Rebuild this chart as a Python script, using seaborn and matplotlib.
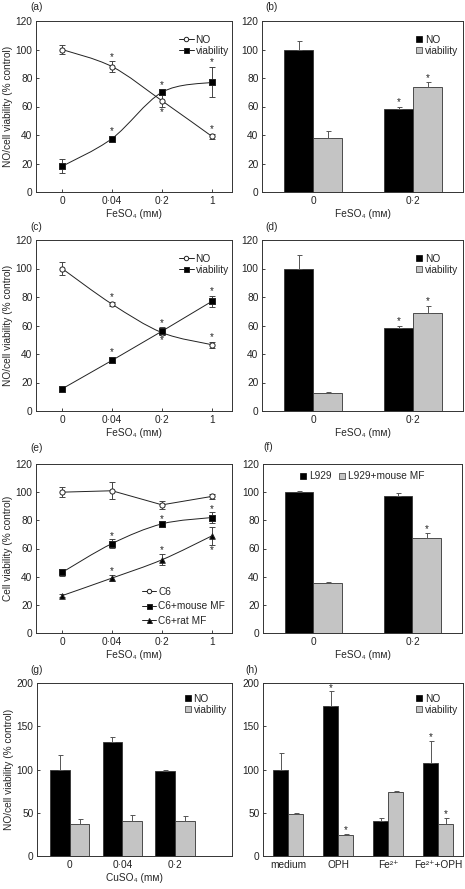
import numpy as np
import pandas as pd
import matplotlib
matplotlib.use("Agg")
import matplotlib.pyplot as plt
import seaborn as sns
from matplotlib.path import Path
from matplotlib.patches import PathPatch
from matplotlib.lines import Line2D

# ---- data ----
fe_doses = ["0", "0·04", "0·2", "1"]
fe_two = ["0", "0·2"]
cu_doses = ["0", "0·04", "0·2"]
h_groups = ["medium", "OPH", "Fe²⁺", "Fe²⁺+OPH"]

# (a)
a_no = [100, 88, 64, 39]
a_no_err = [3, 4, 4, 2]
a_via = [18, 37.5, 70, 77]
a_via_err = [5, 1.2, 2, 10.5]
# (b)
b_no = [100, 58.5]
b_no_err = [6, 1.5]
b_via = [38, 73.5]
b_via_err = [4.5, 3.5]
# (c)
c_no = [100, 75, 55, 46.5]
c_no_err = [4.5, 1.5, 2, 2]
c_via = [15.5, 35.5, 56, 77]
c_via_err = [1, 2, 3, 4]
# (d)
d_no = [100, 58.5]
d_no_err = [9.5, 1.5]
d_via = [12.5, 69]
d_via_err = [0.5, 4.5]
# (e)
e_c6 = [100, 101, 91, 97]
e_c6_err = [3.5, 6, 3, 2]
e_mouse = [43, 63.5, 77.5, 82]
e_mouse_err = [2.5, 3, 1.5, 4]
e_rat = [26.5, 39, 52, 69]
e_rat_err = [1, 2, 4, 6.5]
# (f)
f_l929 = [100, 97]
f_l929_err = [0.5, 2.5]
f_mf = [35.5, 67.5]
f_mf_err = [1, 3.5]
# (g)
g_no = [100, 132, 98]
g_no_err = [17, 5, 1]
g_via = [37.5, 41, 40.5]
g_via_err = [5.5, 6.5, 6]
# (h)
h_no = [100, 173, 40.5, 107]
h_no_err = [19, 18, 3, 26]
h_via = [48, 24.5, 74.5, 37]
h_via_err = [2, 1.5, 0.5, 7.5]

sns.set_theme(style="white")
plt.rcParams["font.family"] = ["Liberation Sans", "DejaVu Sans"]
FS = 7.3
plt.rcParams.update({
    "axes.edgecolor": "#333333",
    "axes.linewidth": 0.7,
    "xtick.direction": "in",
    "ytick.direction": "in",
    "xtick.major.size": 2.5,
    "ytick.major.size": 2.5,
    "xtick.major.width": 0.6,
    "ytick.major.width": 0.6,
    "xtick.bottom": True,
    "ytick.left": True,
    "xtick.labelsize": FS,
    "ytick.labelsize": FS,
    "xtick.major.pad": 3,
    "ytick.major.pad": 2.5,
    "xtick.color": "#222222",
    "ytick.color": "#222222",
})

W, H = 465, 889
fig = plt.figure(figsize=(W / 100, H / 100), dpi=100)
fig.patch.set_facecolor("white")


def add_ax(l, t, r, b):
    return fig.add_axes([l / W, 1 - b / H, (r - l) / W, (b - t) / H])


def smooth_line(ax, y, **kw):
    # Catmull-Rom style bezier through the data points
    x = np.arange(len(y), dtype=float)
    y = np.asarray(y, dtype=float)
    pts = np.column_stack([x, y])
    verts = [pts[0]]
    codes = [Path.MOVETO]
    n = len(pts)
    for i in range(n - 1):
        p0 = pts[max(i - 1, 0)]
        p1 = pts[i]
        p2 = pts[i + 1]
        p3 = pts[min(i + 2, n - 1)]
        c1 = p1 + (p2 - p0) / 6.0
        c2 = p2 - (p3 - p1) / 6.0
        verts += [c1, c2, p2]
        codes += [Path.CURVE4] * 3
    ax.add_patch(PathPatch(Path(verts, codes), fill=False, **kw))


INK = "#222222"
GREY = "#c4c4c4"


def line_series(ax, cats, y, err, marker, face, ms, smooth=True):
    if smooth:
        smooth_line(ax, y, lw=0.7, edgecolor=INK, zorder=2)
    else:
        ax.plot(range(len(cats)), y, color=INK, lw=0.7, zorder=2)
    ax.errorbar(range(len(cats)), y, yerr=err, fmt="none", ecolor="#444444",
                elinewidth=0.7, capsize=2.2, capthick=0.7, zorder=3)
    df = pd.DataFrame({"dose": cats, "val": y})
    sns.scatterplot(data=df, x="dose", y="val", marker=marker, s=ms,
                    color=face, edgecolor=INK, linewidth=0.7, ax=ax, zorder=4,
                    legend=False)


def stars(ax, xs, ys):
    for x, y in zip(xs, ys):
        ax.text(x, y, "*", ha="center", va="center", fontsize=7, color=INK)


def style(ax, ylim, yticks, xlabel, ylabel=None, xlim=None):
    ax.set_ylim(*ylim)
    ax.set_yticks(yticks)
    if xlim is not None:
        ax.set_xlim(*xlim)
    ax.set_xlabel(xlabel, fontsize=FS, labelpad=2)
    ax.set_ylabel(ylabel if ylabel else "", fontsize=FS, labelpad=2)
    for s in ax.spines.values():
        s.set_visible(True)
    ax.grid(False)


def bar_panel(ax, cats, s1, e1, s2, e2, names, width):
    df = pd.DataFrame({
        "cat": list(cats) * 2,
        "val": list(s1) + list(s2),
        "grp": [names[0]] * len(cats) + [names[1]] * len(cats),
    })
    sns.barplot(data=df, x="cat", y="val", hue="grp", order=cats,
                hue_order=names, palette=["black", GREY], width=width, gap=0,
                errorbar=None, legend=False, ax=ax, saturation=1,
                edgecolor="#333333", linewidth=0.6)
    for cont, errs in zip(ax.containers, [e1, e2]):
        for patch, e in zip(cont.patches, errs):
            cx = patch.get_x() + patch.get_width() / 2
            h = patch.get_height()
            ax.errorbar([cx], [h], yerr=[[0], [e]], fmt="none",
                        ecolor="#555555", elinewidth=0.7, capsize=1.8,
                        capthick=0.7, zorder=3)


def sq_legend(ax, names, **kw):
    hs = [Line2D([], [], ls="none", marker="s", ms=4, mfc="black",
                 mec="black", mew=0.5),
          Line2D([], [], ls="none", marker="s", ms=4, mfc=GREY,
                 mec="#333333", mew=0.5)]
    ax.legend(hs, names, frameon=False, fontsize=FS, handlelength=0.5,
              handletextpad=0.3, borderpad=0.2, **kw)


def line_legend(ax, specs, names, **kw):
    hs = [Line2D([], [], color=INK, lw=0.7, marker=m, ms=ms, mfc=f,
                 mec=INK, mew=0.7) for m, f, ms in specs]
    ax.legend(hs, names, frameon=False, fontsize=FS, handlelength=1.4,
              handletextpad=0.2, borderpad=0.2, **kw)


FE = "FeSO₄ (mᴍ)"
CU = "CuSO₄ (mᴍ)"
YL = "NO/cell viability (% control)"

# ---- (a) ----
ax = add_ax(36, 21, 232, 192)
line_series(ax, fe_doses, a_no, a_no_err, "o", "white", 14)
line_series(ax, fe_doses, a_via, a_via_err, "s", "black", 18)
style(ax, (0, 120), range(0, 121, 20), FE, YL, xlim=(-0.52, 3.4))
stars(ax, [1, 2, 3], [95, 56, 44])
stars(ax, [1, 2, 3], [43, 75, 91])
line_legend(ax, [("o", "white", 3.2), ("s", "black", 3.6)], ["NO", "viability"],
            loc="upper right", labelspacing=0.1, bbox_to_anchor=(1.02, 0.96))
fig.text(30 / W, 1 - 7 / H, "(a)", fontsize=FS, va="center")

# ---- (b) ----
ax = add_ax(262, 21, 463, 192)
bar_panel(ax, fe_two, b_no, b_no_err, b_via, b_via_err, ["NO", "viability"], 0.58)
style(ax, (0, 120), range(0, 121, 20), FE, xlim=(-0.51, 1.5))
stars(ax, [0.855, 1.145], [63, 80])
sq_legend(ax, ["NO", "viability"], loc="upper right", labelspacing=0.1,
          bbox_to_anchor=(1.01, 0.96))
fig.text(265 / W, 1 - 7 / H, "(b)", fontsize=FS, va="center")

# ---- (c) ----
ax = add_ax(36, 240, 232, 411)
line_series(ax, fe_doses, c_no, c_no_err, "o", "white", 14)
line_series(ax, fe_doses, c_via, c_via_err, "s", "black", 18, smooth=False)
style(ax, (0, 120), range(0, 121, 20), FE, YL, xlim=(-0.52, 3.4))
stars(ax, [1, 2, 3], [80, 50, 52])
stars(ax, [1, 2, 3], [41, 62, 84])
line_legend(ax, [("o", "white", 3.2), ("s", "black", 3.6)], ["NO", "viability"],
            loc="upper right", labelspacing=0.1, bbox_to_anchor=(1.02, 0.96))
fig.text(30 / W, 1 - 227 / H, "(c)", fontsize=FS, va="center")

# ---- (d) ----
ax = add_ax(262, 240, 463, 411)
bar_panel(ax, fe_two, d_no, d_no_err, d_via, d_via_err, ["NO", "viability"], 0.58)
style(ax, (0, 120), range(0, 121, 20), FE, xlim=(-0.51, 1.5))
stars(ax, [0.855, 1.145], [63, 77])
sq_legend(ax, ["NO", "viability"], loc="upper right", labelspacing=0.1,
          bbox_to_anchor=(1.01, 0.96))
fig.text(265 / W, 1 - 227 / H, "(d)", fontsize=FS, va="center")

# ---- (e) ----
ax = add_ax(36, 464, 232, 633)
line_series(ax, fe_doses, e_c6, e_c6_err, "o", "white", 14, smooth=False)
line_series(ax, fe_doses, e_mouse, e_mouse_err, "s", "black", 18)
line_series(ax, fe_doses, e_rat, e_rat_err, "^", "black", 16)
style(ax, (0, 120), range(0, 121, 20), FE, "Cell viability (% control)",
      xlim=(-0.52, 3.4))
stars(ax, [1, 2, 3], [69, 81, 88])
stars(ax, [1, 2, 3], [44, 59, 59])
line_legend(ax, [("o", "white", 3.2), ("s", "black", 3.6), ("^", "black", 3.6)],
            ["C6", "C6+mouse MF", "C6+rat MF"], loc="lower right",
            labelspacing=0.45, bbox_to_anchor=(1.0, 0.0))
fig.text(30 / W, 1 - 448 / H, "(e)", fontsize=FS, va="center")

# ---- (f) ----
ax = add_ax(263, 464, 462, 633)
bar_panel(ax, fe_two, f_l929, f_l929_err, f_mf, f_mf_err,
          ["L929", "L929+mouse MF"], 0.58)
style(ax, (0, 120), range(0, 121, 20), FE, xlim=(-0.51, 1.5))
stars(ax, [1.145], [74])
sq_legend(ax, ["L929", "L929+mouse MF"], loc="upper center", ncol=2,
          columnspacing=0.8, bbox_to_anchor=(0.5, 1.0))
fig.text(263 / W, 1 - 447 / H, "(f)", fontsize=FS, va="center")

# ---- (g) ----
ax = add_ax(37, 683, 232, 856)
bar_panel(ax, cu_doses, g_no, g_no_err, g_via, g_via_err, ["NO", "viability"], 0.75)
style(ax, (0, 200), range(0, 201, 50), CU, YL, xlim=(-0.62, 3.08))
sq_legend(ax, ["NO", "viability"], loc="upper right", labelspacing=0.1,
          bbox_to_anchor=(1.01, 0.98))
fig.text(30 / W, 1 - 670 / H, "(g)", fontsize=FS, va="center")

# ---- (h) ----
ax = add_ax(263, 683, 463, 856)
bar_panel(ax, h_groups, h_no, h_no_err, h_via, h_via_err, ["NO", "viability"], 0.6)
style(ax, (0, 200), range(0, 201, 50), "", xlim=(-0.5, 3.5))
stars(ax, [0.85, 1.15, 2.85, 3.15], [194, 30, 137, 49])
sq_legend(ax, ["NO", "viability"], loc="upper right", labelspacing=0.1,
          bbox_to_anchor=(1.01, 0.98))
fig.text(245 / W, 1 - 670 / H, "(h)", fontsize=FS, va="center")

fig.savefig("out.png", dpi=100, facecolor="white")
